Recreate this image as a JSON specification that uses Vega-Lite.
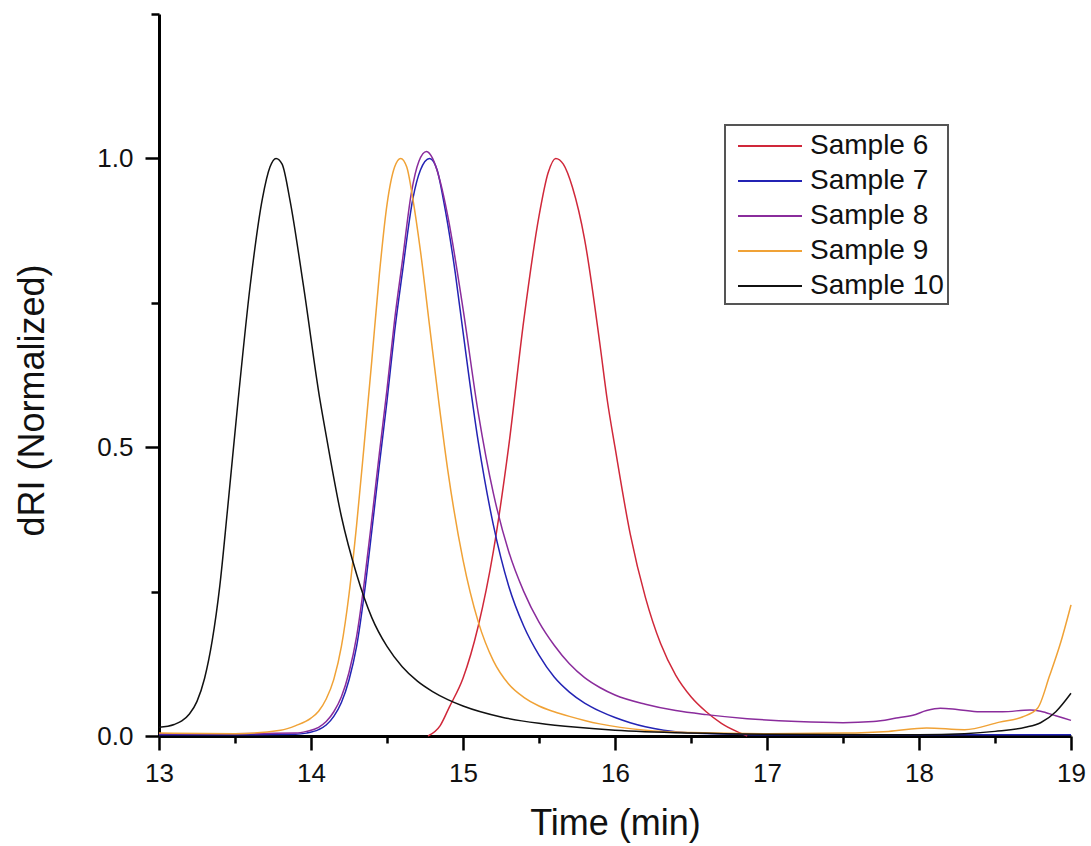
{
  "$schema": "https://vega.github.io/schema/vega-lite/v6.json",
  "width": 912,
  "height": 722,
  "autosize": {"type": "none"},
  "padding": {"left": 159, "top": 14, "right": 20, "bottom": 110},
  "background": "white",
  "config": {
    "view": {"stroke": null},
    "font": "Liberation Sans",
    "axis": {
      "domainColor": "#000000",
      "domainWidth": 3,
      "tickColor": "#000000",
      "tickWidth": 2.5,
      "labelColor": "#111111",
      "labelFont": "Liberation Sans",
      "labelFontSize": 26,
      "titleFont": "Liberation Sans",
      "titleFontSize": 36,
      "titleFontWeight": "normal",
      "titleColor": "#111111",
      "grid": false
    }
  },
  "data": {
    "values": [
      {"s": "Sample 6", "t": 14.77, "v": 0.0},
      {"s": "Sample 6", "t": 14.85, "v": 0.018},
      {"s": "Sample 6", "t": 14.91, "v": 0.05},
      {"s": "Sample 6", "t": 15.0, "v": 0.1},
      {"s": "Sample 6", "t": 15.1, "v": 0.19},
      {"s": "Sample 6", "t": 15.2, "v": 0.32},
      {"s": "Sample 6", "t": 15.3, "v": 0.5},
      {"s": "Sample 6", "t": 15.4, "v": 0.72},
      {"s": "Sample 6", "t": 15.5, "v": 0.9},
      {"s": "Sample 6", "t": 15.56, "v": 0.975},
      {"s": "Sample 6", "t": 15.61, "v": 1.0},
      {"s": "Sample 6", "t": 15.66, "v": 0.99},
      {"s": "Sample 6", "t": 15.72, "v": 0.95},
      {"s": "Sample 6", "t": 15.8, "v": 0.86},
      {"s": "Sample 6", "t": 15.9, "v": 0.68},
      {"s": "Sample 6", "t": 15.95, "v": 0.58},
      {"s": "Sample 6", "t": 16.0, "v": 0.5},
      {"s": "Sample 6", "t": 16.1, "v": 0.35},
      {"s": "Sample 6", "t": 16.2, "v": 0.24},
      {"s": "Sample 6", "t": 16.3, "v": 0.16},
      {"s": "Sample 6", "t": 16.4, "v": 0.105},
      {"s": "Sample 6", "t": 16.5, "v": 0.068},
      {"s": "Sample 6", "t": 16.6, "v": 0.042},
      {"s": "Sample 6", "t": 16.7, "v": 0.022},
      {"s": "Sample 6", "t": 16.8, "v": 0.008},
      {"s": "Sample 6", "t": 16.87, "v": 0.0},

      {"s": "Sample 7", "t": 13.0, "v": 0.002},
      {"s": "Sample 7", "t": 13.5, "v": 0.002},
      {"s": "Sample 7", "t": 13.9, "v": 0.003},
      {"s": "Sample 7", "t": 13.97, "v": 0.005},
      {"s": "Sample 7", "t": 14.05, "v": 0.011},
      {"s": "Sample 7", "t": 14.1, "v": 0.019},
      {"s": "Sample 7", "t": 14.15, "v": 0.034},
      {"s": "Sample 7", "t": 14.2, "v": 0.058},
      {"s": "Sample 7", "t": 14.25, "v": 0.097},
      {"s": "Sample 7", "t": 14.3, "v": 0.155},
      {"s": "Sample 7", "t": 14.35, "v": 0.245},
      {"s": "Sample 7", "t": 14.4, "v": 0.355},
      {"s": "Sample 7", "t": 14.45, "v": 0.47},
      {"s": "Sample 7", "t": 14.5, "v": 0.58},
      {"s": "Sample 7", "t": 14.55, "v": 0.7},
      {"s": "Sample 7", "t": 14.6, "v": 0.8},
      {"s": "Sample 7", "t": 14.67, "v": 0.93},
      {"s": "Sample 7", "t": 14.72, "v": 0.98},
      {"s": "Sample 7", "t": 14.78, "v": 1.0},
      {"s": "Sample 7", "t": 14.83, "v": 0.98},
      {"s": "Sample 7", "t": 14.87, "v": 0.93},
      {"s": "Sample 7", "t": 14.95, "v": 0.8},
      {"s": "Sample 7", "t": 15.0, "v": 0.7},
      {"s": "Sample 7", "t": 15.1, "v": 0.51},
      {"s": "Sample 7", "t": 15.2, "v": 0.365},
      {"s": "Sample 7", "t": 15.3, "v": 0.26},
      {"s": "Sample 7", "t": 15.4, "v": 0.19},
      {"s": "Sample 7", "t": 15.5, "v": 0.14},
      {"s": "Sample 7", "t": 15.6, "v": 0.102},
      {"s": "Sample 7", "t": 15.7, "v": 0.076},
      {"s": "Sample 7", "t": 15.8, "v": 0.057},
      {"s": "Sample 7", "t": 15.9, "v": 0.043},
      {"s": "Sample 7", "t": 16.0, "v": 0.032},
      {"s": "Sample 7", "t": 16.1, "v": 0.023},
      {"s": "Sample 7", "t": 16.2, "v": 0.016},
      {"s": "Sample 7", "t": 16.32, "v": 0.01},
      {"s": "Sample 7", "t": 16.5, "v": 0.005},
      {"s": "Sample 7", "t": 16.8, "v": 0.003},
      {"s": "Sample 7", "t": 17.0, "v": 0.002},
      {"s": "Sample 7", "t": 18.0, "v": 0.002},
      {"s": "Sample 7", "t": 19.0, "v": 0.002},

      {"s": "Sample 8", "t": 13.0, "v": 0.004},
      {"s": "Sample 8", "t": 13.5, "v": 0.004},
      {"s": "Sample 8", "t": 13.9, "v": 0.005},
      {"s": "Sample 8", "t": 13.97, "v": 0.008},
      {"s": "Sample 8", "t": 14.05, "v": 0.015},
      {"s": "Sample 8", "t": 14.1, "v": 0.025},
      {"s": "Sample 8", "t": 14.15, "v": 0.042},
      {"s": "Sample 8", "t": 14.2, "v": 0.068},
      {"s": "Sample 8", "t": 14.25, "v": 0.11},
      {"s": "Sample 8", "t": 14.3, "v": 0.172},
      {"s": "Sample 8", "t": 14.35, "v": 0.265},
      {"s": "Sample 8", "t": 14.4, "v": 0.375},
      {"s": "Sample 8", "t": 14.45, "v": 0.49},
      {"s": "Sample 8", "t": 14.5, "v": 0.6},
      {"s": "Sample 8", "t": 14.55, "v": 0.72},
      {"s": "Sample 8", "t": 14.6, "v": 0.82},
      {"s": "Sample 8", "t": 14.66, "v": 0.94},
      {"s": "Sample 8", "t": 14.71, "v": 0.995},
      {"s": "Sample 8", "t": 14.76, "v": 1.012},
      {"s": "Sample 8", "t": 14.8, "v": 1.0},
      {"s": "Sample 8", "t": 14.85, "v": 0.96},
      {"s": "Sample 8", "t": 14.9, "v": 0.9},
      {"s": "Sample 8", "t": 15.0, "v": 0.74},
      {"s": "Sample 8", "t": 15.1, "v": 0.56},
      {"s": "Sample 8", "t": 15.2, "v": 0.42},
      {"s": "Sample 8", "t": 15.3, "v": 0.32},
      {"s": "Sample 8", "t": 15.4, "v": 0.25},
      {"s": "Sample 8", "t": 15.5, "v": 0.197},
      {"s": "Sample 8", "t": 15.6, "v": 0.157},
      {"s": "Sample 8", "t": 15.7, "v": 0.125},
      {"s": "Sample 8", "t": 15.8, "v": 0.101},
      {"s": "Sample 8", "t": 15.9, "v": 0.084},
      {"s": "Sample 8", "t": 16.0, "v": 0.071},
      {"s": "Sample 8", "t": 16.2, "v": 0.055},
      {"s": "Sample 8", "t": 16.4, "v": 0.044},
      {"s": "Sample 8", "t": 16.6, "v": 0.037},
      {"s": "Sample 8", "t": 16.87, "v": 0.03},
      {"s": "Sample 8", "t": 17.2, "v": 0.025},
      {"s": "Sample 8", "t": 17.5, "v": 0.023},
      {"s": "Sample 8", "t": 17.7, "v": 0.025},
      {"s": "Sample 8", "t": 17.85, "v": 0.031},
      {"s": "Sample 8", "t": 17.96, "v": 0.036},
      {"s": "Sample 8", "t": 18.05, "v": 0.044},
      {"s": "Sample 8", "t": 18.14, "v": 0.048},
      {"s": "Sample 8", "t": 18.25, "v": 0.046},
      {"s": "Sample 8", "t": 18.4, "v": 0.042},
      {"s": "Sample 8", "t": 18.55, "v": 0.042},
      {"s": "Sample 8", "t": 18.73, "v": 0.045},
      {"s": "Sample 8", "t": 18.8, "v": 0.043},
      {"s": "Sample 8", "t": 18.9, "v": 0.035},
      {"s": "Sample 8", "t": 19.0, "v": 0.027},

      {"s": "Sample 9", "t": 13.0, "v": 0.005},
      {"s": "Sample 9", "t": 13.5, "v": 0.004},
      {"s": "Sample 9", "t": 13.8, "v": 0.01},
      {"s": "Sample 9", "t": 13.9, "v": 0.018},
      {"s": "Sample 9", "t": 14.0, "v": 0.031},
      {"s": "Sample 9", "t": 14.05, "v": 0.043},
      {"s": "Sample 9", "t": 14.1, "v": 0.064},
      {"s": "Sample 9", "t": 14.15, "v": 0.098},
      {"s": "Sample 9", "t": 14.2, "v": 0.155},
      {"s": "Sample 9", "t": 14.25, "v": 0.245},
      {"s": "Sample 9", "t": 14.3, "v": 0.365},
      {"s": "Sample 9", "t": 14.35, "v": 0.505},
      {"s": "Sample 9", "t": 14.4, "v": 0.65},
      {"s": "Sample 9", "t": 14.45, "v": 0.8},
      {"s": "Sample 9", "t": 14.5, "v": 0.92},
      {"s": "Sample 9", "t": 14.55, "v": 0.985},
      {"s": "Sample 9", "t": 14.59, "v": 1.0},
      {"s": "Sample 9", "t": 14.63, "v": 0.985},
      {"s": "Sample 9", "t": 14.67, "v": 0.93},
      {"s": "Sample 9", "t": 14.72, "v": 0.84},
      {"s": "Sample 9", "t": 14.78, "v": 0.71},
      {"s": "Sample 9", "t": 14.84, "v": 0.58},
      {"s": "Sample 9", "t": 14.9, "v": 0.46},
      {"s": "Sample 9", "t": 15.0, "v": 0.305},
      {"s": "Sample 9", "t": 15.1, "v": 0.198},
      {"s": "Sample 9", "t": 15.2, "v": 0.13},
      {"s": "Sample 9", "t": 15.3, "v": 0.09},
      {"s": "Sample 9", "t": 15.4, "v": 0.067},
      {"s": "Sample 9", "t": 15.5, "v": 0.052},
      {"s": "Sample 9", "t": 15.6, "v": 0.042},
      {"s": "Sample 9", "t": 15.7, "v": 0.034},
      {"s": "Sample 9", "t": 15.8, "v": 0.027},
      {"s": "Sample 9", "t": 15.9, "v": 0.021},
      {"s": "Sample 9", "t": 16.2, "v": 0.01},
      {"s": "Sample 9", "t": 16.5, "v": 0.006},
      {"s": "Sample 9", "t": 17.0, "v": 0.004},
      {"s": "Sample 9", "t": 17.5, "v": 0.005},
      {"s": "Sample 9", "t": 17.8, "v": 0.008},
      {"s": "Sample 9", "t": 18.05, "v": 0.014},
      {"s": "Sample 9", "t": 18.3, "v": 0.011},
      {"s": "Sample 9", "t": 18.53, "v": 0.024},
      {"s": "Sample 9", "t": 18.68, "v": 0.033},
      {"s": "Sample 9", "t": 18.78, "v": 0.048},
      {"s": "Sample 9", "t": 18.86, "v": 0.105},
      {"s": "Sample 9", "t": 18.93, "v": 0.16},
      {"s": "Sample 9", "t": 19.0, "v": 0.227},

      {"s": "Sample 10", "t": 13.0, "v": 0.015},
      {"s": "Sample 10", "t": 13.1, "v": 0.02},
      {"s": "Sample 10", "t": 13.15, "v": 0.026},
      {"s": "Sample 10", "t": 13.2, "v": 0.038},
      {"s": "Sample 10", "t": 13.25, "v": 0.06},
      {"s": "Sample 10", "t": 13.3, "v": 0.1},
      {"s": "Sample 10", "t": 13.35, "v": 0.165},
      {"s": "Sample 10", "t": 13.4, "v": 0.26},
      {"s": "Sample 10", "t": 13.45, "v": 0.39},
      {"s": "Sample 10", "t": 13.52, "v": 0.58},
      {"s": "Sample 10", "t": 13.6, "v": 0.78},
      {"s": "Sample 10", "t": 13.68, "v": 0.93},
      {"s": "Sample 10", "t": 13.73, "v": 0.985},
      {"s": "Sample 10", "t": 13.77, "v": 1.0},
      {"s": "Sample 10", "t": 13.81, "v": 0.99},
      {"s": "Sample 10", "t": 13.86, "v": 0.93},
      {"s": "Sample 10", "t": 13.95, "v": 0.78},
      {"s": "Sample 10", "t": 14.06, "v": 0.58},
      {"s": "Sample 10", "t": 14.1, "v": 0.52},
      {"s": "Sample 10", "t": 14.2, "v": 0.38},
      {"s": "Sample 10", "t": 14.3, "v": 0.28},
      {"s": "Sample 10", "t": 14.4, "v": 0.205},
      {"s": "Sample 10", "t": 14.5, "v": 0.155},
      {"s": "Sample 10", "t": 14.6, "v": 0.12},
      {"s": "Sample 10", "t": 14.7, "v": 0.095},
      {"s": "Sample 10", "t": 14.8, "v": 0.077},
      {"s": "Sample 10", "t": 14.9, "v": 0.063},
      {"s": "Sample 10", "t": 15.0, "v": 0.052},
      {"s": "Sample 10", "t": 15.25, "v": 0.033},
      {"s": "Sample 10", "t": 15.5, "v": 0.022},
      {"s": "Sample 10", "t": 15.75, "v": 0.015},
      {"s": "Sample 10", "t": 16.0, "v": 0.01},
      {"s": "Sample 10", "t": 16.5, "v": 0.005},
      {"s": "Sample 10", "t": 17.0, "v": 0.003},
      {"s": "Sample 10", "t": 18.0, "v": 0.002},
      {"s": "Sample 10", "t": 18.3, "v": 0.004},
      {"s": "Sample 10", "t": 18.5, "v": 0.008},
      {"s": "Sample 10", "t": 18.7, "v": 0.015},
      {"s": "Sample 10", "t": 18.8, "v": 0.023},
      {"s": "Sample 10", "t": 18.9, "v": 0.042},
      {"s": "Sample 10", "t": 19.0, "v": 0.074}
    ]
  },
  "layer": [
    {
      "mark": {"type": "line", "opacity": 0},
      "encoding": {
        "x": {
          "field": "t",
          "type": "quantitative",
          "scale": {"domain": [13, 19], "nice": false, "zero": false},
          "axis": {
            "orient": "bottom",
            "title": null,
            "values": [13.5, 14.5, 15.5, 16.5, 17.5, 18.5],
            "labels": false,
            "domain": false,
            "tickSize": 7
          }
        },
        "y": {
          "field": "v",
          "type": "quantitative",
          "scale": {"domain": [0, 1.25], "nice": false},
          "axis": {
            "orient": "left",
            "title": null,
            "values": [0.25, 0.75, 1.25],
            "labels": false,
            "domain": false,
            "tickSize": 8
          }
        },
        "detail": {"field": "s", "type": "nominal"}
      }
    },
    {
      "mark": {"type": "line", "strokeWidth": 1.5, "interpolate": "monotone"},
      "encoding": {
        "x": {
          "field": "t",
          "type": "quantitative",
          "axis": {
            "orient": "bottom",
            "title": "Time (min)",
            "values": [13, 14, 15, 16, 17, 18, 19],
            "format": "d",
            "tickSize": 14,
            "labelPadding": 10,
            "titlePadding": 20,
            "labelFlush": false
          }
        },
        "y": {
          "field": "v",
          "type": "quantitative",
          "axis": {
            "orient": "left",
            "title": "dRI (Normalized)",
            "titleY": 386,
            "values": [0, 0.5, 1],
            "format": ".1f",
            "tickSize": 14,
            "labelPadding": 12,
            "titlePadding": 45,
            "labelFlush": false
          }
        },
        "color": {
          "field": "s",
          "type": "nominal",
          "scale": {
            "domain": ["Sample 6", "Sample 7", "Sample 8", "Sample 9", "Sample 10"],
            "range": ["#d0283a", "#2323b4", "#8a2c9c", "#f0a236", "#111111"]
          },
          "legend": {
            "title": null,
            "orient": "none",
            "legendX": 566,
            "legendY": 111,
            "strokeColor": "#555555",
            "fillColor": "white",
            "padding": 4,
            "labelFont": "Liberation Sans",
            "labelFontSize": 28,
            "labelColor": "#111111",
            "symbolType": "M-0.5,0L3.5,0",
            "symbolSize": 1024,
            "symbolStrokeWidth": 2,
            "rowPadding": 4,
            "labelOffset": 47,
            "encode": {"legend": {"update": {"strokeWidth": {"value": 2}}}}
          }
        }
      }
    }
  ],
  "resolve": {"axis": {"x": "independent", "y": "independent"}}
}
